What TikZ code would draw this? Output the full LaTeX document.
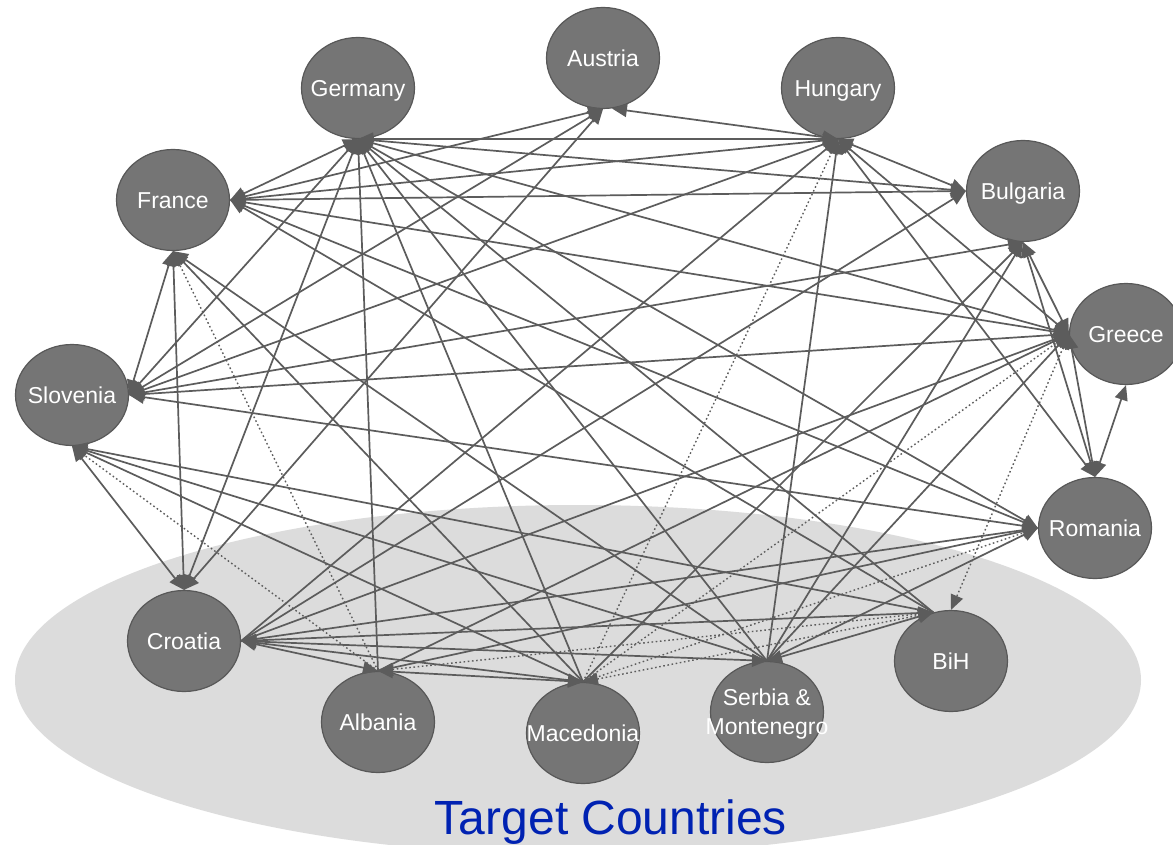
\documentclass[tikz,border=0pt]{standalone}
\usepackage{fontspec}
\setmainfont{Liberation Sans}
\usetikzlibrary{arrows.meta,shapes.geometric}
\definecolor{nodefill}{RGB}{117,117,117}
\definecolor{nodeedge}{RGB}{88,88,88}
\definecolor{linkc}{RGB}{92,92,92}
\definecolor{bggray}{RGB}{220,220,220}
\definecolor{tblue}{RGB}{0,34,178}
\begin{document}
\begin{tikzpicture}[x=1pt,y=-1pt,
  country/.style={ellipse, fill=nodefill, draw=nodeedge, line width=1.2pt,
    minimum width=113pt, minimum height=101pt, inner sep=0pt},
  ctext/.style={text=white, font=\fontsize{23}{29}\selectfont, align=center,
    inner sep=0pt, text height=19pt, text depth=2.5pt},
  link/.style={draw=linkc, line width=1.7pt},
  both/.style={link, {Triangle[length=15pt,width=13pt]}-{Triangle[length=15pt,width=13pt]}},
  into/.style={link, -{Triangle[length=15pt,width=13pt]}},
  dots/.style={dash pattern=on 1.6pt off 2.6pt, line width=1.4pt}
]
\useasboundingbox (0,0) rectangle (1173,845);
\begin{scope}
\clip (0,0) rectangle (1173,845);
\fill[white] (0,0) rectangle (1173,845);
\fill[bggray] (578,680) ellipse [x radius=563pt, y radius=175pt];

\node[country, label={[ctext]center:Austria}] (Austria) at (603,58) {};
\node[country, label={[ctext]center:Germany}] (Germany) at (358,88) {};
\node[country, label={[ctext]center:Hungary}] (Hungary) at (838,88) {};
\node[country, label={[ctext]center:France}] (France) at (173,200) {};
\node[country, label={[ctext]center:Bulgaria}] (Bulgaria) at (1023,191) {};
\node[country, label={[ctext]center:Greece}] (Greece) at (1126,334) {};
\node[country, label={[ctext]center:Slovenia}] (Slovenia) at (72,395) {};
\node[country, label={[ctext]center:Romania}] (Romania) at (1095,528) {};
\node[country, label={[ctext]center:Croatia}] (Croatia) at (184,641) {};
\node[country, label={[ctext]center:BiH}] (BiH) at (951,661) {};
\node[country, label={[ctext]center:Albania}] (Albania) at (378,722) {};
\node[country, label={[ctext]center:Macedonia}] (Macedonia) at (583,733) {};
\node[country, label={[ctext, text height=48pt]center:Serbia \&\\Montenegro}] (Serbia) at (767,712) {};

\node[font=\fontsize{48}{56}\selectfont, text=tblue, anchor=base, inner sep=0pt] (title) at (611,834) {Target Countries};

% links between non-target countries
\draw[both] (Austria.south) -- (France.east);
\draw[both] (Austria.south) -- (Slovenia.east);
\draw[both] (Austria.-80) -- (Hungary.south);
\draw[both] (Germany.south) -- (Hungary.south);
\draw[both] (Germany.south) -- (France.east);
\draw[both] (Germany.south) -- (Slovenia.east);
\draw[both] (Germany.south) -- (Bulgaria.west);
\draw[both] (Germany.south) -- (Greece.west);
\draw[both] (Germany.south) -- (Romania.west);
\draw[both] (Hungary.south) -- (France.east);
\draw[both] (Hungary.south) -- (Slovenia.east);
\draw[both] (Hungary.south) -- (Bulgaria.west);
\draw[both] (Hungary.south) -- (Greece.west);
\draw[both] (Hungary.south) -- (Romania.north);
\draw[both] (France.east) -- (Bulgaria.west);
\draw[both] (France.east) -- (Greece.west);
\draw[both] (France.east) -- (Romania.west);
\draw[both] (France.south) -- (Slovenia.east);
\draw[both] (Slovenia.east) -- (Bulgaria.south);
\draw[both] (Slovenia.east) -- (Greece.west);
\draw[both] (Slovenia.east) -- (Romania.west);
\draw[both] (Bulgaria.south) -- (Greece.west);
\draw[both] (Bulgaria.south) -- (Romania.north);
\draw[both] (Greece.west) -- (Romania.north);
\draw[both] (Greece.south) -- (Romania.north);
\draw[both] (Slovenia.south) -- (Croatia.north);
\draw[both] (France.south) -- (Croatia.north);
\draw[both] (Germany.south) -- (Croatia.north);
\draw[both] (Austria.south) -- (Croatia.north);

% links among target countries
\draw[both] (Croatia.east) -- (Albania.north);
\draw[both] (Croatia.east) -- (Macedonia.north);
\draw[both] (Croatia.east) -- (Serbia.north);
\draw[both] (Croatia.east) -- (BiH.110);
\draw[both] (Albania.north) -- (Macedonia.north);
\draw[both] (Serbia.north) -- (BiH.110);
\draw[both, dots] (Albania.north) -- (BiH.110);
\draw[both, dots] (Macedonia.north) -- (BiH.110);
\draw[both, dots] (Greece.west) -- (BiH.north);

% links from target countries
\draw[into] (Albania.north) -- (Germany.south);
\draw[into] (Macedonia.north) -- (Germany.south);
\draw[into] (Serbia.north) -- (Germany.south);
\draw[into] (BiH.110) -- (Germany.south);
\draw[into] (Croatia.east) -- (Hungary.south);
\draw[into] (Serbia.north) -- (Hungary.south);
\draw[into, dots] (Macedonia.north) -- (Hungary.south);
\draw[into] (BiH.110) -- (France.east);
\draw[into] (Serbia.north) -- (France.south);
\draw[into] (Macedonia.north) -- (France.south);
\draw[into, dots] (Albania.north) -- (France.south);
\draw[into, dots] (Albania.north) -- (Slovenia.south);
\draw[into] (Macedonia.north) -- (Slovenia.south);
\draw[into] (Serbia.north) -- (Slovenia.south);
\draw[into] (BiH.110) -- (Slovenia.south);
\draw[into] (Croatia.east) -- (Bulgaria.west);
\draw[into] (Serbia.north) -- (Bulgaria.south);
\draw[into] (Macedonia.north) -- (Bulgaria.south);
\draw[into] (Croatia.east) -- (Greece.west);
\draw[into] (Albania.north) -- (Greece.west);
\draw[into] (Serbia.north) -- (Greece.west);
\draw[into, dots] (Macedonia.north) -- (Greece.west);
\draw[into] (Croatia.east) -- (Romania.west);
\draw[into] (Albania.north) -- (Romania.west);
\draw[into, dots] (Macedonia.north) -- (Romania.west);
\draw[into] (Serbia.north) -- (Romania.west);
\end{scope}
\end{tikzpicture}
\end{document}
